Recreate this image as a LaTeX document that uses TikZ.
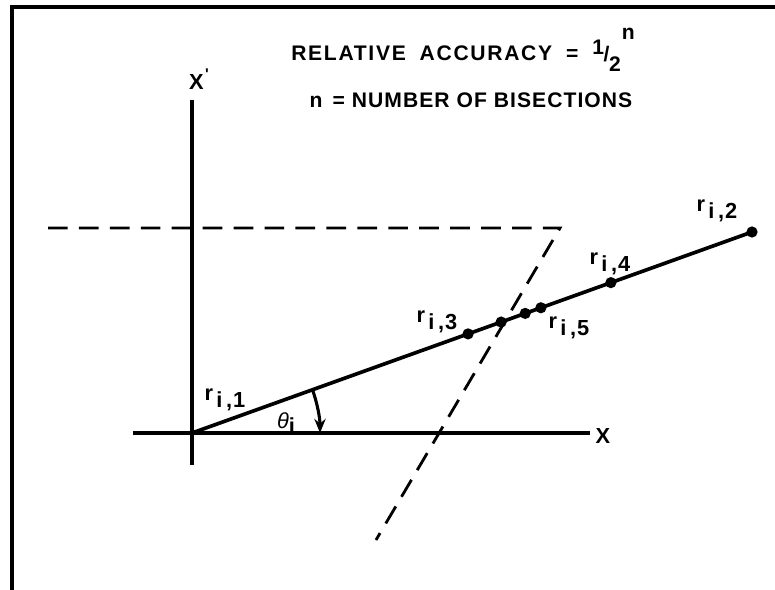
\documentclass[tikz,border=0pt]{standalone}
\usepackage{fontspec}
\setmainfont{Liberation Sans}[LetterSpace=8]
\usepackage{tikz}
\usetikzlibrary{arrows.meta, calc, positioning}

\tikzset{
    axisline/.style={line width=2.6pt},
    guideline/.style={line width=2pt, dash pattern=on 14pt off 8pt},
    bisect/.style={circle, fill=black, inner sep=0pt, minimum size=8pt},
    rlabel/.style={font=\bfseries\fontsize{15.5}{18}\selectfont, inner sep=1pt},
    titletext/.style={font=\bfseries\fontsize{15}{17}\selectfont},
    legendtext/.style={font=\bfseries\fontsize{15}{17}\selectfont\addfontfeatures{LetterSpace=5}}
}
\newcommand{\rsub}[2]{r\raisebox{-0.65ex}{\kern0.15em#1\,,\kern0.05em#2}}

\begin{document}
\begin{tikzpicture}[x=0.025cm, y=0.025cm]
    \useasboundingbox (0,0) rectangle (775,590);
    % Frame
    \draw[line width=2.4pt] (12,0) -- (12,583) -- (775,583);
    % Title
    \node[titletext] (title) at (463,540)
        {RELATIVE\hspace{0.3em} ACCURACY\hspace{0.3em} =\hspace{0.3em} \raisebox{0.55ex}{1}\kern-0.02em\raisebox{-0.1ex}{/}\kern-0.02em\raisebox{-1.0ex}{2}\kern0.05em\raisebox{1.9ex}{n}};
    \node[legendtext] (legend) at (471,490) {n\hspace{0.15em} = NUMBER OF BISECTIONS};
    % Axes
    \coordinate (o) at (192,157);
    \coordinate (xl) at (133,157);
    \coordinate (xr) at (590,157);
    \coordinate (yb) at (192,125);
    \coordinate (yt) at (192,490);
    \draw[axisline] (xl) -- (xr);
    \draw[axisline] (yb) -- (yt);
    \node[rlabel, anchor=west] (xname) at (594,154) {X};
    \node[rlabel] (yname) at (199,511) {X\raisebox{0.9ex}{\fontsize{11}{12}\selectfont\kern0.1em\textquotesingle}};
    % Dashed guides
    \coordinate (gl) at (48,362);
    \coordinate (gc) at (560,362);
    \coordinate (gb) at (376,50);
    \draw[guideline] (gl) -- (gc) -- (gb);
    % Radius line and bisection points
    \coordinate (r2) at (752,358);
    \draw[axisline] (o) -- (r2);
    \node[bisect] (p2) at (r2) {};
    \node[bisect] (p3) at ($(o)!0.493!(r2)$) {};
    \node[bisect] (pa) at ($(o)!0.552!(r2)$) {};
    \node[bisect] (pb) at ($(o)!0.595!(r2)$) {};
    \node[bisect] (p5) at ($(o)!0.623!(r2)$) {};
    \node[bisect] (p4) at ($(o)!0.748!(r2)$) {};
    % Angle
    \draw[line width=2.2pt, -{Stealth[length=10pt, width=8pt]}] (o) ++(19.7:128) arc (19.7:0:128);
    % Labels
    \node[rlabel] (l1) at (225,190) {\rsub{i}{1}};
    \node[rlabel] (th) at (286,167) {\mdseries\itshape θ\raisebox{-0.5ex}{\upshape\bfseries i}};
    \node[rlabel] (l3) at (437,268) {\rsub{i}{3}};
    \node[rlabel] (l5) at (569,262) {\rsub{i}{5}};
    \node[rlabel] (l4) at (610,326) {\rsub{i}{4}};
    \node[rlabel] (l2) at (717,379) {\rsub{i}{2}};
\end{tikzpicture}
\end{document}
